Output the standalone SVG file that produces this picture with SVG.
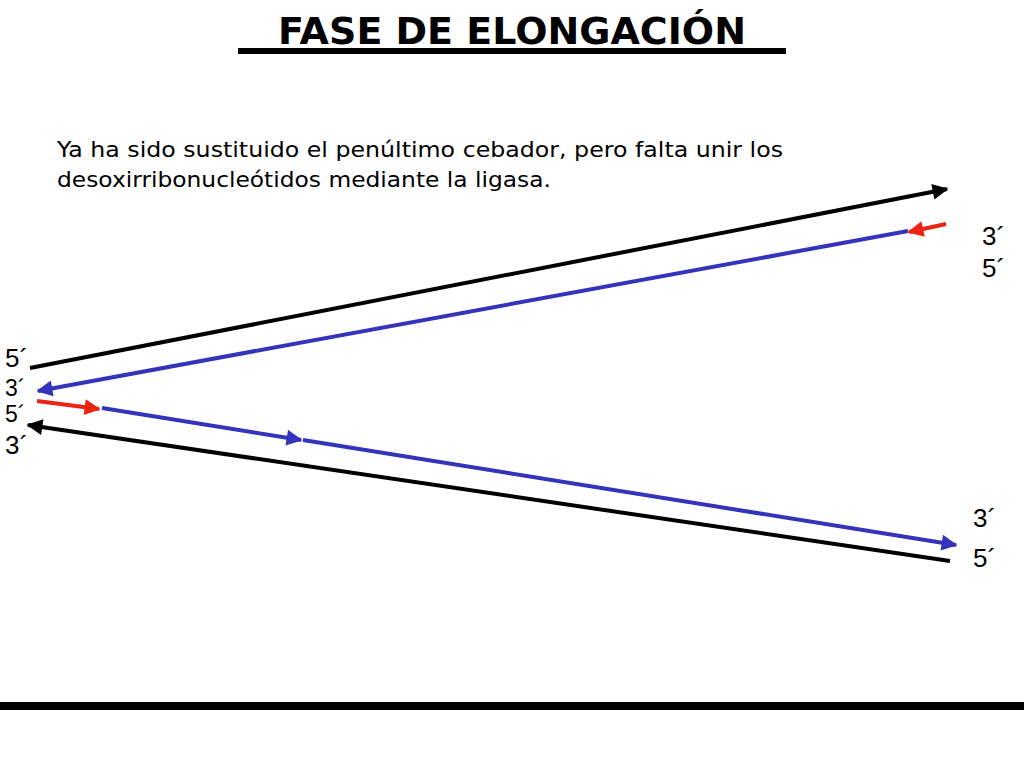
<svg xmlns="http://www.w3.org/2000/svg" width="1024" height="768" viewBox="0 0 1024 768">
<style>
.lbl{font-family:"Liberation Sans",Arial,sans-serif;font-size:26px;fill:#000}
.sm{font-size:23px}
.cap{font-family:"DejaVu Sans",Verdana,sans-serif;font-size:22px;fill:#000}
.k{stroke:#000;stroke-width:4;fill:none}
.b{stroke:#3333bb;stroke-width:4;fill:none}
.r{stroke:#ee2211;stroke-width:4;fill:none}
</style>
<defs>
<marker id="ak" viewBox="0 0 10 10" refX="9" refY="5" markerWidth="5" markerHeight="4" orient="auto" markerUnits="strokeWidth"><path d="M0,0 L10,5 L0,10 z" fill="#000"/></marker>
<marker id="ab" viewBox="0 0 10 10" refX="9" refY="5" markerWidth="5" markerHeight="4" orient="auto" markerUnits="strokeWidth"><path d="M0,0 L10,5 L0,10 z" fill="#3333bb"/></marker>
<marker id="ar" viewBox="0 0 10 10" refX="9" refY="5" markerWidth="5" markerHeight="4" orient="auto" markerUnits="strokeWidth"><path d="M0,0 L10,5 L0,10 z" fill="#ee2211"/></marker>
</defs>
<rect width="1024" height="768" fill="#fff"/>
<g id="title">
<text x="512" y="44" text-anchor="middle" font-family="'Comic Sans MS','DejaVu Sans',sans-serif" font-weight="bold" font-size="38">FASE DE ELONGACIÓN</text>
<rect x="238" y="48" width="548" height="6" fill="#000"/>
</g>
<g id="caption">
<text class="cap" x="57" y="157" textLength="726" lengthAdjust="spacingAndGlyphs">Ya ha sido sustituido el penúltimo cebador, pero falta unir los</text>
<text class="cap" x="57" y="187" textLength="494" lengthAdjust="spacingAndGlyphs">desoxirribonucleótidos mediante la ligasa.</text>
</g>
<g id="connectors">
<line class="k" x1="30" y1="368" x2="947" y2="189" marker-end="url(#ak)"/>
<line class="b" x1="908" y1="231" x2="38" y2="391" marker-end="url(#ab)"/>
<line class="r" x1="946" y1="224" x2="909" y2="232" marker-end="url(#ar)"/>
<line class="r" x1="37" y1="401" x2="99" y2="409" marker-end="url(#ar)"/>
<line class="b" x1="102" y1="408" x2="301" y2="440" marker-end="url(#ab)"/>
<line class="b" x1="303" y1="440" x2="956" y2="545" marker-end="url(#ab)"/>
<line class="k" x1="950" y1="561" x2="28" y2="425" marker-end="url(#ak)"/>
</g>
<g id="labels">
<text class="lbl" x="5" y="367">5´</text>
<text class="lbl sm" x="5" y="396">3´</text>
<text class="lbl sm" x="5" y="422">5´</text>
<text class="lbl" x="5" y="454">3´</text>
<text class="lbl" x="982" y="245">3´</text>
<text class="lbl" x="982" y="277">5´</text>
<text class="lbl" x="973" y="527">3´</text>
<text class="lbl" x="973" y="567">5´</text>
</g>
<rect id="baseline" x="0" y="702" width="1024" height="8" fill="#000"/>
</svg>
